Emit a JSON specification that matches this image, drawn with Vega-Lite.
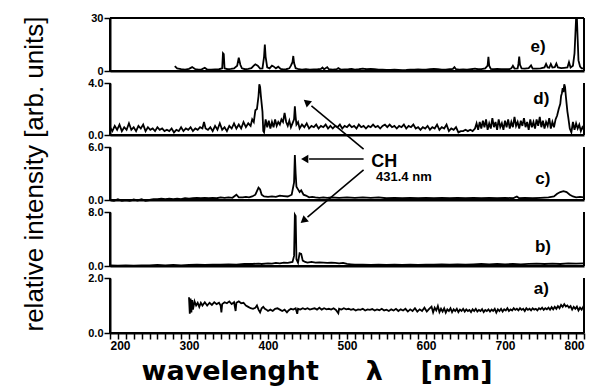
{
"$schema":"https://vega.github.io/schema/vega-lite/v6.json",
"padding":{"left":20,"top":12,"right":5,"bottom":5},
"config":{"view":{"strokeWidth":0},"axis":{"grid":false,"domainColor":"black","domainWidth":2,"tickColor":"black","tickWidth":1.5,"tickSize":6,"labelColor":"black","labelFont":"Liberation Sans","labelFontWeight":"bold","labelFontSize":11,"labelPadding":1,"labelOverlap":false,"titleColor":"black"}},
"datasets":{
"e":[{"x":282,"y":2.8},{"x":285,"y":1.5},{"x":290,"y":1.0},{"x":295,"y":0.8},{"x":300,"y":1.2},{"x":304,"y":2.2},{"x":308,"y":1.0},{"x":312,"y":0.8},{"x":316,"y":0.9},{"x":320,"y":1.8},{"x":323,"y":0.8},{"x":328,"y":0.7},{"x":333,"y":0.9},{"x":338,"y":1.0},{"x":342,"y":1.5},{"x":343,"y":10},{"x":344,"y":9.5},{"x":345,"y":1.5},{"x":349,"y":1.0},{"x":353,"y":1.2},{"x":357,"y":1.5},{"x":361,"y":3.0},{"x":363,"y":7.5},{"x":365,"y":3.5},{"x":367,"y":1.5},{"x":371,"y":1.0},{"x":375,"y":1.2},{"x":379,"y":1.6},{"x":382,"y":3.0},{"x":384,"y":3.8},{"x":387,"y":3.0},{"x":390,"y":1.4},{"x":393,"y":1.5},{"x":395,"y":8},{"x":396,"y":15},{"x":397,"y":8},{"x":399,"y":2.0},{"x":402,"y":1.5},{"x":405,"y":3.0},{"x":407,"y":2.6},{"x":410,"y":1.5},{"x":413,"y":2.4},{"x":416,"y":1.2},{"x":419,"y":0.9},{"x":423,"y":1.0},{"x":427,"y":1.5},{"x":429,"y":3.0},{"x":431,"y":5.0},{"x":432,"y":8.5},{"x":433,"y":4.5},{"x":435,"y":1.6},{"x":439,"y":1.0},{"x":443,"y":0.8},{"x":448,"y":1.0},{"x":453,"y":0.8},{"x":458,"y":0.9},{"x":463,"y":1.0},{"x":467,"y":1.2},{"x":469,"y":2.0},{"x":471,"y":1.0},{"x":475,"y":2.2},{"x":477,"y":1.0},{"x":482,"y":0.8},{"x":487,"y":1.0},{"x":489,"y":1.6},{"x":492,"y":0.8},{"x":497,"y":0.9},{"x":502,"y":1.0},{"x":506,"y":1.2},{"x":510,"y":0.8},{"x":515,"y":1.0},{"x":520,"y":1.3},{"x":525,"y":1.0},{"x":530,"y":1.2},{"x":535,"y":1.0},{"x":540,"y":0.8},{"x":545,"y":0.7},{"x":550,"y":0.6},{"x":555,"y":0.6},{"x":560,"y":0.7},{"x":565,"y":0.6},{"x":570,"y":0.5},{"x":575,"y":0.6},{"x":580,"y":0.8},{"x":585,"y":0.7},{"x":590,"y":0.9},{"x":595,"y":0.7},{"x":600,"y":0.8},{"x":605,"y":1.0},{"x":610,"y":1.2},{"x":615,"y":1.0},{"x":620,"y":0.8},{"x":625,"y":0.7},{"x":630,"y":1.0},{"x":634,"y":1.2},{"x":636,"y":2.2},{"x":638,"y":1.0},{"x":642,"y":0.8},{"x":647,"y":0.9},{"x":652,"y":0.7},{"x":657,"y":1.0},{"x":662,"y":1.3},{"x":666,"y":1.0},{"x":670,"y":1.1},{"x":675,"y":1.5},{"x":678,"y":3},{"x":679,"y":8},{"x":680,"y":3},{"x":682,"y":1.2},{"x":686,"y":1.0},{"x":690,"y":1.2},{"x":695,"y":1.0},{"x":700,"y":1.1},{"x":705,"y":1.0},{"x":708,"y":1.5},{"x":710,"y":3.0},{"x":712,"y":1.4},{"x":716,"y":1.5},{"x":717,"y":4},{"x":718,"y":8.2},{"x":719,"y":3.5},{"x":721,"y":1.5},{"x":725,"y":1.4},{"x":730,"y":1.6},{"x":733,"y":3.2},{"x":735,"y":1.4},{"x":740,"y":1.3},{"x":745,"y":1.5},{"x":750,"y":2.0},{"x":752,"y":4.0},{"x":754,"y":2.0},{"x":756,"y":1.8},{"x":758,"y":4.0},{"x":760,"y":2.0},{"x":763,"y":2.2},{"x":765,"y":4.2},{"x":767,"y":2.0},{"x":771,"y":1.6},{"x":775,"y":1.8},{"x":779,"y":2.0},{"x":781,"y":5.0},{"x":783,"y":2.0},{"x":786,"y":3.0},{"x":788,"y":10},{"x":789,"y":20},{"x":790,"y":30},{"x":791,"y":30},{"x":792,"y":18},{"x":793,"y":6},{"x":795,"y":2.5},{"x":797,"y":1.5},{"x":800,"y":1.5}],
"d":[{"x":200,"y":0.6},{"x":203,"y":0.3},{"x":206,"y":0.7},{"x":209,"y":0.4},{"x":212,"y":0.8},{"x":215,"y":0.3},{"x":218,"y":0.6},{"x":221,"y":0.4},{"x":224,"y":0.9},{"x":227,"y":0.4},{"x":230,"y":0.6},{"x":233,"y":0.3},{"x":236,"y":0.7},{"x":239,"y":0.5},{"x":242,"y":0.8},{"x":245,"y":0.3},{"x":248,"y":0.6},{"x":251,"y":0.4},{"x":254,"y":0.5},{"x":257,"y":0.3},{"x":260,"y":0.6},{"x":263,"y":0.4},{"x":266,"y":0.5},{"x":269,"y":0.3},{"x":272,"y":0.4},{"x":275,"y":0.3},{"x":278,"y":0.5},{"x":281,"y":0.2},{"x":284,"y":0.4},{"x":287,"y":0.3},{"x":290,"y":0.6},{"x":293,"y":0.3},{"x":296,"y":0.5},{"x":299,"y":0.4},{"x":302,"y":0.6},{"x":305,"y":0.3},{"x":308,"y":0.5},{"x":311,"y":0.4},{"x":314,"y":0.6},{"x":317,"y":0.5},{"x":319,"y":1.0},{"x":321,"y":0.5},{"x":324,"y":0.4},{"x":327,"y":0.6},{"x":330,"y":0.3},{"x":333,"y":0.7},{"x":336,"y":0.4},{"x":339,"y":0.9},{"x":342,"y":0.4},{"x":345,"y":0.6},{"x":348,"y":0.3},{"x":351,"y":0.7},{"x":354,"y":0.5},{"x":357,"y":0.9},{"x":360,"y":0.5},{"x":363,"y":0.8},{"x":366,"y":0.5},{"x":369,"y":1.0},{"x":372,"y":0.6},{"x":375,"y":0.9},{"x":378,"y":0.7},{"x":380,"y":1.2},{"x":382,"y":1.0},{"x":384,"y":1.9},{"x":386,"y":2.0},{"x":388,"y":3.0},{"x":389,"y":3.9},{"x":390,"y":3.7},{"x":391,"y":3.0},{"x":392,"y":2.4},{"x":393,"y":1.8},{"x":394,"y":0.3},{"x":395,"y":0.2},{"x":397,"y":1.2},{"x":399,"y":0.6},{"x":401,"y":1.1},{"x":403,"y":0.5},{"x":405,"y":1.0},{"x":407,"y":0.6},{"x":409,"y":1.2},{"x":411,"y":0.7},{"x":413,"y":1.0},{"x":415,"y":0.8},{"x":417,"y":1.2},{"x":419,"y":1.0},{"x":421,"y":1.7},{"x":423,"y":1.0},{"x":425,"y":0.7},{"x":427,"y":1.1},{"x":429,"y":0.6},{"x":431,"y":0.9},{"x":433,"y":1.2},{"x":434,"y":2.2},{"x":435,"y":1.4},{"x":436,"y":0.8},{"x":438,"y":1.0},{"x":440,"y":0.5},{"x":443,"y":0.8},{"x":446,"y":0.6},{"x":449,"y":0.9},{"x":452,"y":0.5},{"x":455,"y":0.7},{"x":458,"y":0.6},{"x":461,"y":0.8},{"x":464,"y":0.5},{"x":467,"y":0.7},{"x":470,"y":0.6},{"x":473,"y":0.8},{"x":476,"y":0.5},{"x":479,"y":0.7},{"x":482,"y":0.5},{"x":485,"y":0.7},{"x":488,"y":0.6},{"x":491,"y":0.8},{"x":494,"y":0.5},{"x":497,"y":0.7},{"x":500,"y":0.6},{"x":503,"y":0.8},{"x":506,"y":0.6},{"x":509,"y":0.7},{"x":512,"y":0.5},{"x":515,"y":0.8},{"x":518,"y":0.6},{"x":521,"y":0.7},{"x":524,"y":0.5},{"x":527,"y":0.7},{"x":530,"y":0.6},{"x":533,"y":0.8},{"x":536,"y":0.6},{"x":539,"y":0.7},{"x":542,"y":0.5},{"x":545,"y":0.7},{"x":548,"y":0.8},{"x":551,"y":0.6},{"x":554,"y":0.8},{"x":557,"y":0.6},{"x":560,"y":0.7},{"x":563,"y":0.5},{"x":566,"y":0.7},{"x":569,"y":0.6},{"x":572,"y":0.8},{"x":575,"y":0.5},{"x":578,"y":0.7},{"x":581,"y":0.6},{"x":584,"y":0.8},{"x":587,"y":0.5},{"x":590,"y":0.6},{"x":593,"y":0.4},{"x":596,"y":0.6},{"x":599,"y":0.5},{"x":602,"y":0.7},{"x":605,"y":0.4},{"x":608,"y":0.6},{"x":611,"y":0.5},{"x":614,"y":0.8},{"x":617,"y":0.4},{"x":620,"y":0.6},{"x":623,"y":0.5},{"x":626,"y":0.8},{"x":629,"y":0.3},{"x":632,"y":0.5},{"x":635,"y":0.4},{"x":638,"y":0.6},{"x":641,"y":0.2},{"x":644,"y":0.3},{"x":647,"y":0.3},{"x":650,"y":0.4},{"x":653,"y":0.3},{"x":656,"y":0.4},{"x":659,"y":0.3},{"x":662,"y":0.5},{"x":664,"y":0.9},{"x":666,"y":0.4},{"x":668,"y":1.0},{"x":670,"y":0.5},{"x":672,"y":1.1},{"x":674,"y":0.6},{"x":676,"y":1.2},{"x":678,"y":0.4},{"x":680,"y":0.9},{"x":682,"y":0.5},{"x":684,"y":1.3},{"x":686,"y":0.6},{"x":688,"y":1.0},{"x":690,"y":0.4},{"x":692,"y":1.2},{"x":694,"y":0.6},{"x":696,"y":0.9},{"x":698,"y":0.4},{"x":700,"y":1.1},{"x":702,"y":0.6},{"x":704,"y":1.2},{"x":706,"y":0.5},{"x":708,"y":1.0},{"x":710,"y":0.6},{"x":712,"y":1.4},{"x":714,"y":0.7},{"x":716,"y":1.0},{"x":718,"y":0.5},{"x":720,"y":1.1},{"x":722,"y":0.7},{"x":724,"y":1.3},{"x":726,"y":0.6},{"x":728,"y":1.0},{"x":730,"y":0.4},{"x":732,"y":1.2},{"x":734,"y":0.6},{"x":736,"y":1.0},{"x":738,"y":0.5},{"x":740,"y":1.2},{"x":742,"y":0.7},{"x":744,"y":1.4},{"x":746,"y":0.6},{"x":748,"y":1.1},{"x":750,"y":0.5},{"x":752,"y":1.0},{"x":754,"y":0.7},{"x":756,"y":1.3},{"x":758,"y":0.5},{"x":760,"y":1.0},{"x":762,"y":0.6},{"x":764,"y":1.2},{"x":766,"y":1.5},{"x":768,"y":2.0},{"x":770,"y":2.4},{"x":771,"y":3.0},{"x":772,"y":3.2},{"x":773,"y":3.6},{"x":774,"y":3.3},{"x":775,"y":3.9},{"x":776,"y":3.7},{"x":777,"y":3.0},{"x":778,"y":2.4},{"x":779,"y":1.8},{"x":780,"y":1.4},{"x":782,"y":0.5},{"x":784,"y":0.2},{"x":786,"y":1.0},{"x":788,"y":0.4},{"x":790,"y":0.9},{"x":792,"y":0.5},{"x":794,"y":0.8},{"x":796,"y":0.3},{"x":798,"y":0.6},{"x":800,"y":0.4}],
"c":[{"x":200,"y":0.0},{"x":205,"y":-0.1},{"x":210,"y":0.1},{"x":215,"y":-0.1},{"x":220,"y":0.0},{"x":225,"y":-0.1},{"x":230,"y":0.05},{"x":235,"y":-0.05},{"x":240,"y":0.1},{"x":245,"y":-0.1},{"x":250,"y":0.0},{"x":255,"y":0.1},{"x":260,"y":0.1},{"x":265,"y":0.15},{"x":270,"y":0.1},{"x":275,"y":0.15},{"x":280,"y":0.1},{"x":285,"y":0.15},{"x":290,"y":0.1},{"x":295,"y":0.2},{"x":300,"y":0.15},{"x":305,"y":0.2},{"x":310,"y":0.25},{"x":315,"y":0.2},{"x":320,"y":0.25},{"x":325,"y":0.2},{"x":330,"y":0.25},{"x":335,"y":0.2},{"x":340,"y":0.3},{"x":345,"y":0.25},{"x":350,"y":0.3},{"x":355,"y":0.25},{"x":360,"y":0.6},{"x":363,"y":0.3},{"x":368,"y":0.3},{"x":372,"y":0.35},{"x":376,"y":0.3},{"x":380,"y":0.4},{"x":384,"y":0.6},{"x":386,"y":1.0},{"x":388,"y":1.4},{"x":390,"y":1.2},{"x":392,"y":0.6},{"x":395,"y":0.4},{"x":400,"y":0.35},{"x":405,"y":0.4},{"x":410,"y":0.35},{"x":415,"y":0.5},{"x":420,"y":0.45},{"x":425,"y":0.4},{"x":430,"y":0.6},{"x":433,"y":2.0},{"x":434,"y":5.1},{"x":435,"y":3.0},{"x":436,"y":1.5},{"x":438,"y":1.2},{"x":440,"y":0.9},{"x":442,"y":1.1},{"x":445,"y":0.6},{"x":448,"y":0.5},{"x":452,"y":0.3},{"x":456,"y":0.35},{"x":460,"y":0.3},{"x":465,"y":0.25},{"x":470,"y":0.3},{"x":475,"y":0.25},{"x":480,"y":0.3},{"x":490,"y":0.25},{"x":500,"y":0.3},{"x":510,"y":0.25},{"x":520,"y":0.3},{"x":530,"y":0.25},{"x":540,"y":0.3},{"x":550,"y":0.2},{"x":560,"y":0.25},{"x":570,"y":0.2},{"x":580,"y":0.25},{"x":590,"y":0.2},{"x":600,"y":0.25},{"x":610,"y":0.2},{"x":620,"y":0.25},{"x":630,"y":0.2},{"x":640,"y":0.25},{"x":650,"y":0.2},{"x":660,"y":0.25},{"x":670,"y":0.2},{"x":680,"y":0.25},{"x":690,"y":0.2},{"x":700,"y":0.25},{"x":710,"y":0.2},{"x":715,"y":0.4},{"x":718,"y":0.2},{"x":725,"y":0.25},{"x":735,"y":0.2},{"x":745,"y":0.25},{"x":755,"y":0.3},{"x":762,"y":0.4},{"x":766,"y":0.7},{"x":770,"y":0.9},{"x":774,"y":1.0},{"x":778,"y":0.9},{"x":782,"y":0.6},{"x":786,"y":0.4},{"x":790,"y":0.3},{"x":795,"y":0.35},{"x":800,"y":0.3}],
"b":[{"x":200,"y":0.1},{"x":210,"y":0.05},{"x":220,"y":0.1},{"x":230,"y":0.05},{"x":240,"y":0.1},{"x":250,"y":0.1},{"x":260,"y":0.15},{"x":270,"y":0.1},{"x":280,"y":0.15},{"x":290,"y":0.1},{"x":300,"y":0.15},{"x":310,"y":0.2},{"x":320,"y":0.15},{"x":330,"y":0.2},{"x":340,"y":0.2},{"x":350,"y":0.25},{"x":360,"y":0.2},{"x":370,"y":0.3},{"x":380,"y":0.3},{"x":388,"y":0.35},{"x":392,"y":0.3},{"x":400,"y":0.4},{"x":405,"y":0.35},{"x":410,"y":0.45},{"x":415,"y":0.4},{"x":420,"y":0.5},{"x":425,"y":0.45},{"x":431,"y":0.6},{"x":433,"y":1.5},{"x":434,"y":7.6},{"x":435,"y":7.4},{"x":436,"y":1.0},{"x":438,"y":0.5},{"x":440,"y":1.9},{"x":442,"y":1.8},{"x":444,"y":0.8},{"x":447,"y":0.6},{"x":450,"y":0.5},{"x":455,"y":0.6},{"x":460,"y":0.5},{"x":465,"y":0.55},{"x":470,"y":0.5},{"x":475,"y":0.45},{"x":480,"y":0.5},{"x":485,"y":0.45},{"x":490,"y":0.4},{"x":495,"y":0.45},{"x":500,"y":0.3},{"x":505,"y":0.25},{"x":510,"y":0.2},{"x":520,"y":0.2},{"x":530,"y":0.15},{"x":540,"y":0.2},{"x":550,"y":0.15},{"x":560,"y":0.2},{"x":570,"y":0.15},{"x":580,"y":0.2},{"x":590,"y":0.15},{"x":600,"y":0.2},{"x":610,"y":0.2},{"x":620,"y":0.25},{"x":630,"y":0.2},{"x":640,"y":0.25},{"x":650,"y":0.2},{"x":660,"y":0.25},{"x":670,"y":0.3},{"x":680,"y":0.25},{"x":690,"y":0.3},{"x":700,"y":0.25},{"x":710,"y":0.3},{"x":720,"y":0.25},{"x":730,"y":0.3},{"x":740,"y":0.35},{"x":750,"y":0.3},{"x":760,"y":0.35},{"x":770,"y":0.3},{"x":780,"y":0.4},{"x":790,"y":0.35},{"x":800,"y":0.4}],
"a":[{"x":300,"y":1.3},{"x":301,"y":0.7},{"x":302,"y":1.25},{"x":303,"y":0.75},{"x":304,"y":1.2},{"x":305,"y":0.85},{"x":307,"y":1.15},{"x":309,"y":1.0},{"x":311,"y":1.1},{"x":313,"y":0.95},{"x":315,"y":1.1},{"x":317,"y":1.0},{"x":320,"y":1.12},{"x":323,"y":1.0},{"x":326,"y":1.1},{"x":329,"y":1.02},{"x":332,"y":1.12},{"x":335,"y":1.05},{"x":338,"y":1.1},{"x":340,"y":1.0},{"x":341,"y":0.75},{"x":342,"y":1.05},{"x":345,"y":1.12},{"x":348,"y":1.08},{"x":351,"y":1.15},{"x":354,"y":1.05},{"x":357,"y":1.12},{"x":359,"y":0.8},{"x":360,"y":1.1},{"x":363,"y":1.15},{"x":366,"y":1.08},{"x":369,"y":1.1},{"x":372,"y":1.0},{"x":375,"y":0.95},{"x":378,"y":0.9},{"x":381,"y":0.88},{"x":384,"y":0.92},{"x":386,"y":1.0},{"x":388,"y":0.85},{"x":390,"y":0.75},{"x":392,"y":0.9},{"x":394,"y":0.95},{"x":396,"y":0.88},{"x":398,"y":0.85},{"x":400,"y":0.8},{"x":403,"y":0.85},{"x":406,"y":0.8},{"x":409,"y":0.88},{"x":412,"y":0.9},{"x":415,"y":0.85},{"x":418,"y":0.8},{"x":421,"y":0.85},{"x":424,"y":0.75},{"x":426,"y":0.82},{"x":429,"y":0.88},{"x":432,"y":0.85},{"x":435,"y":0.9},{"x":437,"y":0.7},{"x":438,"y":0.88},{"x":441,"y":0.85},{"x":444,"y":0.9},{"x":447,"y":0.86},{"x":450,"y":0.9},{"x":453,"y":0.85},{"x":456,"y":0.88},{"x":459,"y":0.9},{"x":462,"y":0.85},{"x":465,"y":0.92},{"x":468,"y":0.85},{"x":471,"y":0.9},{"x":474,"y":0.86},{"x":477,"y":0.88},{"x":480,"y":0.85},{"x":483,"y":0.9},{"x":486,"y":0.84},{"x":489,"y":0.72},{"x":490,"y":0.88},{"x":493,"y":0.85},{"x":496,"y":0.9},{"x":499,"y":0.86},{"x":502,"y":0.88},{"x":505,"y":0.84},{"x":508,"y":0.87},{"x":511,"y":0.82},{"x":514,"y":0.86},{"x":517,"y":0.84},{"x":520,"y":0.88},{"x":523,"y":0.82},{"x":526,"y":0.86},{"x":529,"y":0.84},{"x":532,"y":0.87},{"x":535,"y":0.82},{"x":538,"y":0.86},{"x":541,"y":0.83},{"x":544,"y":0.88},{"x":547,"y":0.82},{"x":550,"y":0.85},{"x":553,"y":0.8},{"x":556,"y":0.86},{"x":559,"y":0.82},{"x":562,"y":0.88},{"x":565,"y":0.8},{"x":568,"y":0.86},{"x":571,"y":0.82},{"x":574,"y":0.88},{"x":577,"y":0.78},{"x":580,"y":0.86},{"x":583,"y":0.8},{"x":586,"y":0.9},{"x":589,"y":0.78},{"x":592,"y":0.86},{"x":595,"y":0.8},{"x":598,"y":0.92},{"x":601,"y":0.78},{"x":604,"y":0.88},{"x":607,"y":0.96},{"x":609,"y":0.75},{"x":611,"y":0.92},{"x":613,"y":0.82},{"x":615,"y":0.98},{"x":617,"y":0.76},{"x":619,"y":0.88},{"x":621,"y":0.78},{"x":623,"y":0.9},{"x":625,"y":0.74},{"x":627,"y":0.86},{"x":629,"y":0.8},{"x":631,"y":0.9},{"x":633,"y":0.76},{"x":635,"y":0.86},{"x":637,"y":0.8},{"x":639,"y":0.88},{"x":641,"y":0.76},{"x":643,"y":0.85},{"x":645,"y":0.8},{"x":647,"y":0.88},{"x":649,"y":0.78},{"x":651,"y":0.86},{"x":653,"y":0.8},{"x":655,"y":0.84},{"x":657,"y":0.76},{"x":659,"y":0.86},{"x":661,"y":0.8},{"x":663,"y":0.88},{"x":665,"y":0.78},{"x":667,"y":0.84},{"x":669,"y":0.8},{"x":671,"y":0.87},{"x":673,"y":0.76},{"x":675,"y":0.84},{"x":677,"y":0.8},{"x":679,"y":0.86},{"x":681,"y":0.78},{"x":683,"y":0.85},{"x":685,"y":0.8},{"x":687,"y":0.88},{"x":689,"y":0.74},{"x":691,"y":0.86},{"x":693,"y":0.8},{"x":695,"y":0.88},{"x":697,"y":0.78},{"x":699,"y":0.86},{"x":701,"y":0.82},{"x":703,"y":0.9},{"x":705,"y":0.8},{"x":707,"y":0.86},{"x":709,"y":0.82},{"x":711,"y":0.9},{"x":713,"y":0.84},{"x":715,"y":0.88},{"x":717,"y":0.82},{"x":719,"y":0.9},{"x":721,"y":0.84},{"x":723,"y":0.88},{"x":725,"y":0.8},{"x":727,"y":0.9},{"x":729,"y":0.84},{"x":731,"y":0.88},{"x":733,"y":0.82},{"x":735,"y":0.9},{"x":737,"y":0.85},{"x":739,"y":0.88},{"x":741,"y":0.82},{"x":743,"y":0.9},{"x":745,"y":0.86},{"x":747,"y":0.92},{"x":749,"y":0.84},{"x":751,"y":0.9},{"x":753,"y":0.86},{"x":755,"y":0.92},{"x":757,"y":0.85},{"x":759,"y":0.94},{"x":761,"y":0.86},{"x":763,"y":0.95},{"x":765,"y":0.88},{"x":767,"y":0.98},{"x":769,"y":0.9},{"x":771,"y":1.02},{"x":773,"y":0.95},{"x":775,"y":1.05},{"x":777,"y":0.96},{"x":779,"y":1.0},{"x":781,"y":0.92},{"x":783,"y":0.98},{"x":785,"y":0.85},{"x":787,"y":0.95},{"x":789,"y":0.88},{"x":791,"y":0.96},{"x":793,"y":0.82},{"x":795,"y":0.92},{"x":797,"y":0.85},{"x":799,"y":0.95},{"x":800,"y":0.9}]
},
"vconcat":[
{"width":474,"height":53,"layer":[
 {"data":{"name":"e"},"mark":{"type":"line","color":"black","strokeWidth":1.8},"encoding":{"x":{"field":"x","type":"quantitative","scale":{"domain":[200,800],"nice":false},"axis":{"labels":false,"ticks":false,"title":null}},"y":{"field":"y","type":"quantitative","scale":{"domain":[0,30],"nice":false},"axis":{"title":null,"values":[0,2.5,5,7.5,10,12.5,15,17.5,20,22.5,25,27.5,30],"labelExpr":"datum.value % 15 == 0 ? format(datum.value,'d') : ''"}}}},
 {"data":{"values":[{}]},"mark":{"type":"rule","color":"black","strokeWidth":2},"encoding":{"x":{"datum":800}}},
 {"data":{"values":[{}]},"mark":{"type":"rule","color":"black","strokeWidth":2},"encoding":{"x":{"datum":200}}},
 {"data":{"values":[{}]},"mark":{"type":"rule","color":"black","strokeWidth":2},"encoding":{"y":{"datum":0}}},
 {"data":{"values":[{}]},"mark":{"type":"rule","color":"black","strokeWidth":2},"encoding":{"y":{"datum":30}}},
 {"data":{"values":[{"t":"e)","x":742,"y":13.6}]},"mark":{"type":"text","font":"Liberation Sans","fontWeight":"bold","fontSize":17,"color":"black","baseline":"middle"},"encoding":{"x":{"field":"x","type":"quantitative"},"y":{"field":"y","type":"quantitative"},"text":{"field":"t"}}}
]},
{"width":474,"height":52,"layer":[
 {"data":{"name":"d"},"mark":{"type":"line","color":"black","strokeWidth":1.8},"encoding":{"x":{"field":"x","type":"quantitative","scale":{"domain":[200,800],"nice":false},"axis":{"labels":false,"ticks":false,"title":null}},"y":{"field":"y","type":"quantitative","scale":{"domain":[0,4],"nice":false},"axis":{"title":null,"values":[0,0.4,0.8,1.2,1.6,2,2.4,2.8,3.2,3.6,4],"labelExpr":"datum.value % 2 == 0 ? format(datum.value,'.1f') : ''"}}}},
 {"data":{"values":[{}]},"mark":{"type":"rule","color":"black","strokeWidth":2},"encoding":{"x":{"datum":800}}},
 {"data":{"values":[{}]},"mark":{"type":"rule","color":"black","strokeWidth":2},"encoding":{"x":{"datum":200}}},
 {"data":{"values":[{}]},"mark":{"type":"rule","color":"black","strokeWidth":2},"encoding":{"y":{"datum":0}}},
 {"data":{"values":[{"t":"d)","x":746,"y":2.77}]},"mark":{"type":"text","font":"Liberation Sans","fontWeight":"bold","fontSize":17,"color":"black","baseline":"middle"},"encoding":{"x":{"field":"x","type":"quantitative"},"y":{"field":"y","type":"quantitative"},"text":{"field":"t"}}}
]},
{"width":474,"height":53,"layer":[
 {"data":{"name":"c"},"mark":{"type":"line","color":"black","strokeWidth":1.8},"encoding":{"x":{"field":"x","type":"quantitative","scale":{"domain":[200,800],"nice":false},"axis":{"labels":false,"ticks":false,"title":null}},"y":{"field":"y","type":"quantitative","scale":{"domain":[0,6],"nice":false},"axis":{"title":"relative intensity  [arb. units]","titleFont":"Liberation Sans","titleFontSize":26,"titleFontWeight":"normal","titleX":-76,"titleBaseline":"middle","values":[0,0.5,1,1.5,2,2.5,3,3.5,4,4.5,5,5.5,6],"labelExpr":"datum.value % 3 == 0 ? format(datum.value,'.1f') : ''"}}}},
 {"data":{"values":[{}]},"mark":{"type":"rule","color":"black","strokeWidth":2},"encoding":{"x":{"datum":800}}},
 {"data":{"values":[{}]},"mark":{"type":"rule","color":"black","strokeWidth":2},"encoding":{"x":{"datum":200}}},
 {"data":{"values":[{}]},"mark":{"type":"rule","color":"black","strokeWidth":2},"encoding":{"y":{"datum":0}}},
 {"data":{"values":[{"t":"c)","x":748,"y":2.38}]},"mark":{"type":"text","font":"Liberation Sans","fontWeight":"bold","fontSize":17,"color":"black","baseline":"middle"},"encoding":{"x":{"field":"x","type":"quantitative"},"y":{"field":"y","type":"quantitative"},"text":{"field":"t"}}},
 {"data":{"values":[{"t":"CH","x":547,"y":4.3,"s":18},{"t":"431.4 nm","x":572,"y":2.6,"s":13}]},"mark":{"type":"text","font":"Liberation Sans","fontWeight":"bold","color":"black","baseline":"middle","clip":false},"encoding":{"x":{"field":"x","type":"quantitative"},"y":{"field":"y","type":"quantitative"},"text":{"field":"t"},"size":{"field":"s","type":"quantitative","scale":null}}},
 {"data":{"values":[{"x":521,"y":5.77,"x2":455,"y2":10.65},{"x":521,"y":4.64,"x2":452,"y2":4.64},{"x":521,"y":3.4,"x2":450,"y2":-1.93}]},"mark":{"type":"rule","color":"black","strokeWidth":1.6,"clip":false},"encoding":{"x":{"field":"x","type":"quantitative"},"y":{"field":"y","type":"quantitative"},"x2":{"field":"x2"},"y2":{"field":"y2"}}},
 {"data":{"values":[{"x":450,"y":11.0,"a":310},{"x":448,"y":4.64,"a":270},{"x":446,"y":-2.26,"a":230}]},"mark":{"type":"point","shape":"triangle","filled":true,"color":"black","opacity":1,"size":70,"clip":false},"encoding":{"x":{"field":"x","type":"quantitative"},"y":{"field":"y","type":"quantitative"},"angle":{"field":"a","type":"quantitative","scale":null}}}
]},
{"width":474,"height":54,"layer":[
 {"data":{"name":"b"},"mark":{"type":"line","color":"black","strokeWidth":1.8},"encoding":{"x":{"field":"x","type":"quantitative","scale":{"domain":[200,800],"nice":false},"axis":{"labels":false,"ticks":false,"title":null}},"y":{"field":"y","type":"quantitative","scale":{"domain":[0,8],"nice":false},"axis":{"title":null,"values":[0,0.8,1.6,2.4,3.2,4,4.8,5.6,6.4,7.2,8],"labelExpr":"datum.value % 4 == 0 ? format(datum.value,'.1f') : ''"}}}},
 {"data":{"values":[{}]},"mark":{"type":"rule","color":"black","strokeWidth":2},"encoding":{"x":{"datum":800}}},
 {"data":{"values":[{}]},"mark":{"type":"rule","color":"black","strokeWidth":2},"encoding":{"x":{"datum":200}}},
 {"data":{"values":[{}]},"mark":{"type":"rule","color":"black","strokeWidth":2},"encoding":{"y":{"datum":0}}},
 {"data":{"values":[{"t":"b)","x":748,"y":2.8}]},"mark":{"type":"text","font":"Liberation Sans","fontWeight":"bold","fontSize":17,"color":"black","baseline":"middle"},"encoding":{"x":{"field":"x","type":"quantitative"},"y":{"field":"y","type":"quantitative"},"text":{"field":"t"}}}
]},
{"width":474,"height":55,"layer":[
 {"data":{"name":"a"},"mark":{"type":"line","color":"black","strokeWidth":1.8},"encoding":{"x":{"field":"x","type":"quantitative","scale":{"domain":[200,800],"nice":false},"axis":{"tickCount":60,"labelFontSize":12,"labelExpr":"datum.value % 100 == 0 ? format(datum.value,'d') : ''","title":"wavelenght\u00a0\u00a0\u00a0\u00a0\u00a0λ\u00a0\u00a0\u00a0\u00a0[nm]","titleFont":"DejaVu Sans","titleFontSize":27,"titleFontWeight":"bold","titleAlign":"left","titleAnchor":"start","titleX":31,"titleY":46,"titleBaseline":"alphabetic"}},"y":{"field":"y","type":"quantitative","scale":{"domain":[0,2],"nice":false},"axis":{"title":null,"values":[0,0.2,0.4,0.6,0.8,1,1.2,1.4,1.6,1.8,2],"labelExpr":"datum.value % 1 == 0 ? format(datum.value,'.1f') : ''"}}}},
 {"data":{"values":[{}]},"mark":{"type":"rule","color":"black","strokeWidth":2},"encoding":{"x":{"datum":800}}},
 {"data":{"values":[{}]},"mark":{"type":"rule","color":"black","strokeWidth":2},"encoding":{"x":{"datum":200}}},
 {"data":{"values":[{}]},"mark":{"type":"rule","color":"black","strokeWidth":2},"encoding":{"y":{"datum":0}}},
 {"data":{"values":[{"t":"a)","x":746,"y":1.6}]},"mark":{"type":"text","font":"Liberation Sans","fontWeight":"bold","fontSize":17,"color":"black","baseline":"middle"},"encoding":{"x":{"field":"x","type":"quantitative"},"y":{"field":"y","type":"quantitative"},"text":{"field":"t"}}}
]}
],
"spacing":12,
"bounds":"flush"
}
